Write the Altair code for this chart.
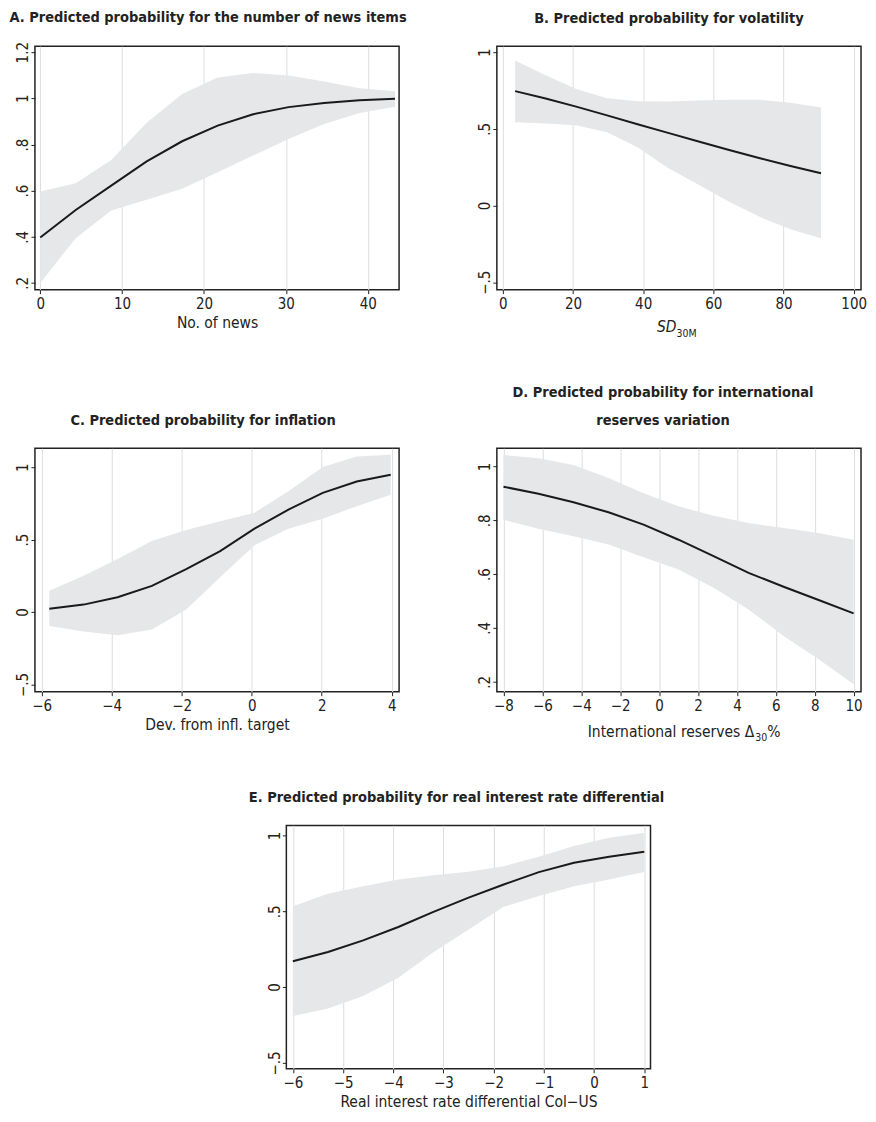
import altair as alt
import pandas as pd

FONT = "DejaVu Sans Condensed"
BAND = "#e6e7e9"
LINE = "#1a1a1a"
TXT = "#222222"

# ---------------- Panel A: number of news items ----------------
a_x = [0, 4.33, 8.67, 13, 17.33, 21.67, 26, 30.33, 34.67, 39, 43.33]
a_fit = [0.397, 0.516, 0.622, 0.727, 0.814, 0.882, 0.931, 0.962, 0.980, 0.992, 0.998]
a_hi = [0.596, 0.632, 0.733, 0.894, 1.019, 1.090, 1.110, 1.099, 1.073, 1.044, 1.031]
a_lo = [0.200, 0.394, 0.514, 0.561, 0.608, 0.680, 0.752, 0.824, 0.889, 0.937, 0.964]
a_xticks = [0, 10, 20, 30, 40]
a_yticks = [0.2, 0.4, 0.6, 0.8, 1.0, 1.2]
a_ylabels = [".2", ".4", ".6", ".8", "1", "1.2"]

# ---------------- Panel B: volatility ----------------
b_x = [3.5, 12.2, 20.9, 29.7, 38.4, 47.1, 55.8, 64.5, 73.3, 82.0, 90.7]
b_fit = [0.746, 0.698, 0.645, 0.588, 0.530, 0.474, 0.418, 0.362, 0.308, 0.258, 0.211]
b_hi = [0.946, 0.850, 0.760, 0.700, 0.680, 0.678, 0.685, 0.690, 0.690, 0.670, 0.639]
b_lo = [0.543, 0.535, 0.524, 0.478, 0.380, 0.245, 0.135, 0.025, -0.075, -0.155, -0.213]
b_xticks = [0, 20, 40, 60, 80, 100]
b_yticks = [-0.5, 0.0, 0.5, 1.0]
b_ylabels = ["\u2212.5", "0", ".5", "1"]

# ---------------- Panel C: inflation ----------------
c_x = [-5.78, -4.80, -3.83, -2.85, -1.87, -0.90, 0.08, 1.05, 2.03, 3.00, 3.97]
c_fit = [0.022, 0.051, 0.102, 0.180, 0.296, 0.420, 0.575, 0.707, 0.822, 0.900, 0.947]
c_hi = [0.147, 0.250, 0.365, 0.490, 0.566, 0.627, 0.685, 0.833, 1.000, 1.073, 1.085]
c_lo = [-0.097, -0.134, -0.161, -0.120, 0.018, 0.239, 0.460, 0.575, 0.643, 0.730, 0.810]
c_xticks = [-6, -4, -2, 0, 2, 4]
c_yticks = [-0.5, 0.0, 0.5, 1.0]
c_ylabels = ["\u2212.5", "0", ".5", "1"]

# ---------------- Panel D: international reserves ----------------
d_x = [-8, -6.2, -4.4, -2.6, -0.8, 1.0, 2.8, 4.6, 6.4, 8.2, 10.0]
d_fit = [0.925, 0.899, 0.867, 0.830, 0.784, 0.728, 0.667, 0.605, 0.553, 0.504, 0.454]
d_hi = [1.043, 1.031, 1.006, 0.957, 0.901, 0.852, 0.817, 0.790, 0.772, 0.753, 0.728]
d_lo = [0.802, 0.769, 0.741, 0.710, 0.663, 0.617, 0.549, 0.469, 0.370, 0.284, 0.191]
d_xticks = [-8, -6, -4, -2, 0, 2, 4, 6, 8, 10]
d_yticks = [0.2, 0.4, 0.6, 0.8, 1.0]
d_ylabels = [".2", ".4", ".6", ".8", "1"]

# ---------------- Panel E: real interest rate differential ----------------
e_x = [-6.0, -5.3, -4.6, -3.9, -3.2, -2.5, -1.8, -1.1, -0.4, 0.3, 1.0]
e_fit = [0.170, 0.231, 0.308, 0.396, 0.496, 0.590, 0.676, 0.758, 0.819, 0.859, 0.892]
e_hi = [0.533, 0.615, 0.665, 0.709, 0.738, 0.760, 0.797, 0.859, 0.930, 0.985, 1.018]
e_lo = [-0.190, -0.142, -0.059, 0.061, 0.229, 0.379, 0.529, 0.600, 0.665, 0.709, 0.758]
e_xticks = [-6, -5, -4, -3, -2, -1, 0, 1]
e_yticks = [-0.5, 0.0, 0.5, 1.0]
e_ylabels = ["\u2212.5", "0", ".5", "1"]


def label_expr(vals, labels):
    expr = "''"
    for v, l in zip(reversed(vals), reversed(labels)):
        expr = f"abs(datum.value - ({v})) < 1e-6 ? '{l}' : ({expr})"
    return expr


W, H = 365, 244
LBL = 15
TTL = 15.5


def txt(s, x, y, size=TTL, align="left", style="normal"):
    return alt.Chart(pd.DataFrame({"t": [s]})).mark_text(
        font=FONT, fontSize=size, fontStyle=style, align=align,
        baseline="alphabetic", color=TXT
    ).encode(text="t:N", x=alt.value(x), y=alt.value(y))


def panel(x, fit, lo, hi, xdom, ydom, xticks, yticks, ylabels, title, xtitle,
          dx=-12, dy=0, extra=None):
    df = pd.DataFrame({"x": x, "fit": fit, "lo": lo, "hi": hi})
    xenc = alt.X(
        "x:Q",
        scale=alt.Scale(domain=xdom, nice=False, zero=False),
        axis=alt.Axis(values=xticks, title=xtitle if xtitle else None, grid=True),
    )
    yenc = alt.Y(
        "lo:Q",
        scale=alt.Scale(domain=ydom, nice=False, zero=False),
        axis=alt.Axis(
            values=yticks,
            title=None,
            grid=False,
            labelAngle=270,
            labelAlign="center",
            labelBaseline="alphabetic",
            labelExpr=label_expr(yticks, ylabels),
        ),
    )
    base = alt.Chart(df)
    band = base.mark_area(color=BAND, opacity=1).encode(x=xenc, y=yenc, y2="hi:Q")
    line = base.mark_line(color=LINE, strokeWidth=2).encode(x="x:Q", y="fit:Q")
    layers = [band, line]
    if extra:
        layers += extra
    return alt.layer(*layers).properties(
        width=W,
        height=H,
        title=alt.TitleParams(title, dx=dx, dy=dy),
    )


# composite axis titles with subscripts
b_xtitle = [
    txt("SD", 180, H + 42, style="italic", align="right"),
    txt("30M", 180, H + 47, size=10.5),
]
d_xtitle = [
    txt("International reserves \u0394", 258, H + 45, align="right"),
    txt("30", 259, H + 49, size=10.5),
    txt("%", 271, H + 45),
]

pA = panel(a_x, a_fit, a_lo, a_hi, [-0.65, 43.83], [0.171, 1.226], a_xticks, a_yticks, a_ylabels,
           "A. Predicted probability for the number of news items", "No. of news", dx=-9, dy=4)
pB = panel(b_x, b_fit, b_lo, b_hi, [-1.71, 102.1], [-0.548, 1.039], b_xticks, b_yticks, b_ylabels,
           "B. Predicted probability for volatility", None, dx=-10, extra=b_xtitle)
pC = panel(c_x, c_fit, c_lo, c_hi, [-6.19, 4.21], [-0.55, 1.13], c_xticks, c_yticks, c_ylabels,
           "C. Predicted probability for inflation", "Dev. from infl. target", dx=-14)
pD = panel(d_x, d_fit, d_lo, d_hi, [-8.34, 10.38], [0.163, 1.068], d_xticks, d_yticks, d_ylabels,
           ["D. Predicted probability for international", "reserves variation"], None,
           dx=-16, extra=d_xtitle)
pE = panel(e_x, e_fit, e_lo, e_hi, [-6.13, 1.124], [-0.539, 1.066], e_xticks, e_yticks, e_ylabels,
           "E. Predicted probability for real interest rate differential",
           "Real interest rate differential Col\u2212US", dx=-12)

spacer = alt.Chart(pd.DataFrame({"v": [0]})).mark_point(opacity=0).encode(
    x=alt.value(0), y=alt.value(0)
).properties(width=213, height=1, view=alt.ViewBackground(strokeOpacity=0))

grid = alt.concat(pA, pB, pC, pD, columns=2,
                  spacing=alt.RowColnumber(row=43, column=69))
row3 = alt.hconcat(spacer, pE, spacing=0)

chart = alt.vconcat(grid, row3, spacing=44).properties(
    padding={"left": 0, "top": 0, "right": 0, "bottom": 0}
).configure_view(
    stroke="#222", strokeWidth=1.5
).configure_axis(
    labelFont=FONT,
    titleFont=FONT,
    labelFontSize=LBL,
    titleFontSize=TTL,
    titleFontWeight="normal",
    labelColor=TXT,
    titleColor=TXT,
    tickColor=TXT,
    tickSize=4,
    tickWidth=1,
    domain=False,
    gridColor="#dddddd",
    gridWidth=1,
    labelPadding=3,
    titlePadding=4,
).configure_title(
    font=FONT,
    fontSize=14.5,
    fontWeight="bold",
    color=TXT,
    anchor="middle",
    offset=20,
    lineHeight=28,
)

chart.save("out.html", embed_options={"renderer": "svg", "actions": False})
